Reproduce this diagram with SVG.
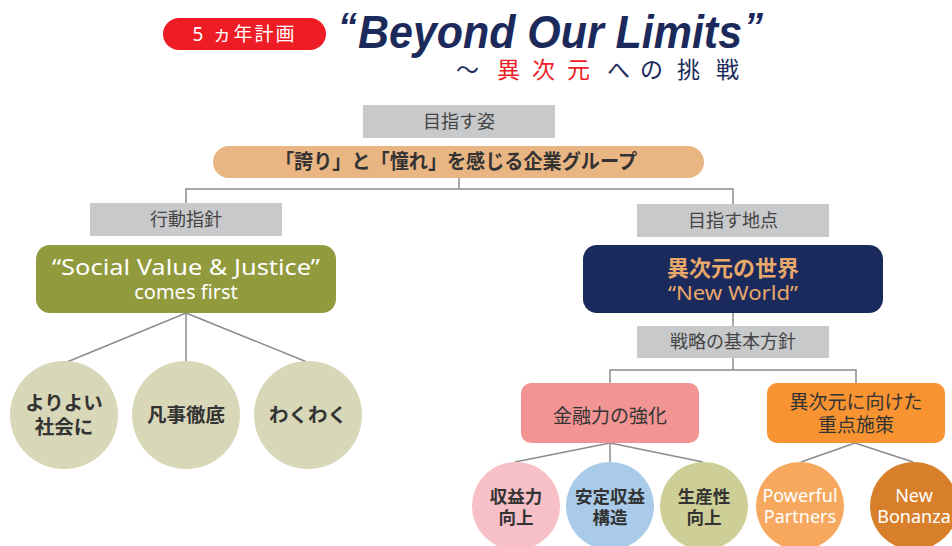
<svg xmlns="http://www.w3.org/2000/svg" width="952" height="546" viewBox="0 0 952 546">
<style>
text{font-family:"Noto Sans","Noto Sans CJK JP",sans-serif;text-anchor:middle}
.ttl{font-family:"Liberation Sans","Noto Sans",sans-serif;font-weight:bold;font-style:italic;fill:#1B2A5A}
.q{text-anchor:start;font-size:38px}
.sub{font-size:23px;text-anchor:start;fill:#1B2A5A}
.red{fill:#EE1C25}
.gbox{fill:#C8C9CB}
.gt{font-size:18px;fill:#444}
.ln{stroke:#8C8C8C;stroke-width:1.5;fill:none}
.ct{font-size:19.5px;font-weight:bold;fill:#333}
.st{font-size:17.5px;font-weight:bold;fill:#333}
.wt{font-size:18px;fill:#fff}
.bt{font-size:19px;fill:#333}
</style>
<rect width="952" height="546" fill="#fff"/>
<g id="header">
<rect x="163" y="18" width="163" height="32" rx="16" fill="#EE1C25"/>
<text x="244.5" y="41" font-size="19" fill="#fff" letter-spacing="2">5 ヵ年計画</text>
<text class="ttl q" x="338" y="40">“</text>
<text class="ttl" x="550" y="48" font-size="46" textLength="384" lengthAdjust="spacingAndGlyphs">Beyond Our Limits</text>
<text class="ttl q" x="744" y="40">”</text>
<text class="sub" x="456" y="78">～</text>
<text class="sub red" x="497" y="78">異</text>
<text class="sub red" x="532" y="78">次</text>
<text class="sub red" x="567" y="78">元</text>
<text class="sub" x="607" y="78">へ</text>
<text class="sub" x="640" y="78">の</text>
<text class="sub" x="677" y="78">挑</text>
<text class="sub" x="716" y="78">戦</text>
</g>
<g id="connectors">
<line class="ln" x1="459" y1="178" x2="459" y2="189"/>
<polyline class="ln" points="186,203 186,189 733,189 733,204"/>
<line class="ln" x1="186" y1="313" x2="67" y2="362"/>
<line class="ln" x1="186" y1="313" x2="186" y2="362"/>
<line class="ln" x1="186" y1="313" x2="307" y2="362"/>
<line class="ln" x1="733" y1="313" x2="733" y2="326"/>
<line class="ln" x1="733" y1="358" x2="733" y2="370"/>
<polyline class="ln" points="610,383 610,370 856,370 856,383"/>
<line class="ln" x1="610" y1="443" x2="515" y2="462"/>
<line class="ln" x1="610" y1="443" x2="610" y2="462"/>
<line class="ln" x1="610" y1="443" x2="703" y2="462"/>
<line class="ln" x1="855" y1="443" x2="801" y2="462"/>
<line class="ln" x1="855" y1="443" x2="913" y2="462"/>
</g>
<g id="label-mezasu-sugata">
<rect class="gbox" x="363" y="105" width="192" height="33"/>
<text class="gt" x="459" y="128">目指す姿</text>
</g>
<g id="node-group">
<rect x="213" y="146" width="491" height="32" rx="16" fill="#E9B583"/>
<text x="456" y="169" font-size="20" font-weight="bold" fill="#333" textLength="362" lengthAdjust="spacingAndGlyphs">「誇り」と「憧れ」を感じる企業グループ</text>
</g>
<g id="label-koudou">
<rect class="gbox" x="90" y="203" width="192" height="33"/>
<text class="gt" x="186" y="226">行動指針</text>
</g>
<g id="node-social">
<rect x="36" y="245" width="300" height="68" rx="14" fill="#919A3C"/>
<text x="186" y="275" font-size="22" fill="#fff" textLength="268" lengthAdjust="spacingAndGlyphs">“Social Value &amp; Justice”</text>
<text x="186" y="299" font-size="20" fill="#fff">comes first</text>
</g>
<g id="label-chiten">
<rect class="gbox" x="637" y="204" width="192" height="33"/>
<text class="gt" x="733" y="227">目指す地点</text>
</g>
<g id="node-newworld">
<rect x="583" y="245" width="300" height="68" rx="14" fill="#1B2A5C"/>
<text x="733" y="276" font-size="22" font-weight="bold" fill="#E8A86A">異次元の世界</text>
<text x="733" y="300" font-size="20" fill="#E8A86A" textLength="130" lengthAdjust="spacingAndGlyphs">“New World”</text>
</g>
<g id="label-senryaku">
<rect class="gbox" x="637" y="326" width="192" height="32"/>
<text class="gt" x="733" y="348">戦略の基本方針</text>
</g>
<g id="c-yoriyoi">
<circle cx="64" cy="415" r="54" fill="#D8D8B8"/>
<text class="ct" x="64" y="410">よりよい</text>
<text class="ct" x="64" y="434">社会に</text>
</g>
<g id="c-bonji">
<circle cx="186" cy="415" r="54" fill="#D8D8B8"/>
<text class="ct" x="186" y="422">凡事徹底</text>
</g>
<g id="c-wakuwaku">
<circle cx="308" cy="415" r="54" fill="#D8D8B8"/>
<text class="ct" x="308" y="422">わくわく</text>
</g>
<g id="node-kinyu">
<rect x="521" y="383" width="178" height="60" rx="10" fill="#F29494"/>
<text class="bt" x="610" y="423">金融力の強化</text>
</g>
<g id="node-juten">
<rect x="767" y="383" width="178" height="60" rx="10" fill="#F79431"/>
<text class="bt" x="856" y="409">異次元に向けた</text>
<text class="bt" x="856" y="432">重点施策</text>
</g>
<g id="c-shueki">
<circle cx="516" cy="506" r="44" fill="#F7BFC6"/>
<text class="st" x="516" y="503">収益力</text>
<text class="st" x="516" y="524">向上</text>
</g>
<g id="c-antei">
<circle cx="610" cy="506" r="44" fill="#A9CBE9"/>
<text class="st" x="610" y="503">安定収益</text>
<text class="st" x="610" y="524">構造</text>
</g>
<g id="c-seisan">
<circle cx="704" cy="506" r="44" fill="#CDCF96"/>
<text class="st" x="704" y="503">生産性</text>
<text class="st" x="704" y="524">向上</text>
</g>
<g id="c-powerful">
<circle cx="800" cy="506" r="44" fill="#F6A95E"/>
<text class="wt" x="800" y="502">Powerful</text>
<text class="wt" x="800" y="523">Partners</text>
</g>
<g id="c-bonanza">
<circle cx="914" cy="506" r="44" fill="#D87F2B"/>
<text class="wt" x="914" y="502">New</text>
<text class="wt" x="914" y="523">Bonanza</text>
</g>
</svg>
